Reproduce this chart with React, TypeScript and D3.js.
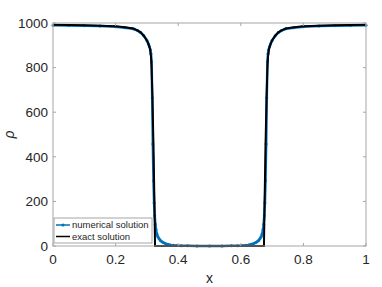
import React from 'react';
import * as d3 from 'd3';

// exact solution (x, rho)
const exactX = [0, 0.05, 0.1, 0.15, 0.2, 0.23, 0.256, 0.27, 0.28, 0.29, 0.3, 0.305, 0.31, 0.313, 0.315, 0.318, 0.321, 0.324, 0.326,
  0.674, 0.676, 0.679, 0.682, 0.685, 0.687, 0.69, 0.695, 0.7, 0.71, 0.72, 0.73, 0.744, 0.77, 0.8, 0.85, 0.9, 0.95, 1];
const exactRho = [992, 991, 990, 988, 985, 981, 975, 967, 958, 943, 922, 905, 884, 850, 800, 650, 450, 200, 0,
  0, 200, 450, 650, 800, 850, 884, 905, 922, 943, 958, 967, 975, 981, 985, 988, 990, 991, 992];

// numerical solution (x, rho)
const numX = [0, 0.05, 0.1, 0.15, 0.2, 0.23, 0.256, 0.27, 0.28, 0.29, 0.3, 0.305, 0.308, 0.311, 0.313, 0.315, 0.317, 0.319,
  0.321, 0.323, 0.325, 0.327, 0.329, 0.332, 0.335, 0.339, 0.343, 0.348, 0.353, 0.36, 0.367, 0.375, 0.385, 0.395, 0.41, 0.43,
  0.46, 0.5, 0.54, 0.57, 0.59, 0.605, 0.615, 0.625, 0.633, 0.64, 0.647, 0.652, 0.657, 0.661, 0.665, 0.668, 0.671, 0.673,
  0.675, 0.677, 0.679, 0.681, 0.683, 0.685, 0.687, 0.689, 0.692, 0.695, 0.7, 0.71, 0.72, 0.73, 0.744, 0.77, 0.8, 0.85, 0.9, 0.95, 1];
const numRho = [990, 989, 988, 986, 983, 979, 974, 966, 957, 943, 922, 906, 895, 880, 862, 826, 664, 457,
  293, 193, 136, 98, 74, 54, 42, 32, 25, 19, 15, 10.5, 7.5, 5, 3.2, 2, 1.2, 0.6,
  0.3, 0.2, 0.3, 0.6, 1.2, 2, 3.2, 5, 7.5, 10.5, 15, 19, 25, 32, 42, 54, 74, 98,
  136, 193, 293, 457, 664, 826, 862, 880, 895, 906, 922, 943, 957, 966, 974, 979, 983, 986, 988, 989, 990];

const xTicks = [0, 0.2, 0.4, 0.6, 0.8, 1];
const yTicks = [0, 200, 400, 600, 800, 1000];
const legendLabels = ['numerical solution', 'exact solution'];

const W = 382, H = 287;
const margin = { top: 23, right: 16, bottom: 41, left: 53 };
const font = 'Liberation Sans, Arial, Helvetica, sans-serif';
const blue = '#0072BD';
const axisColor = '#a6a6a6';
const textColor = '#262626';

const App: React.FC = () => {
  const x = d3.scaleLinear().domain([0, 1]).range([margin.left, W - margin.right]);
  const y = d3.scaleLinear().domain([0, 1000]).range([H - margin.bottom, margin.top]);

  const line = d3.line<[number, number]>().x(d => x(d[0])).y(d => y(d[1]));
  const numPts = numX.map((v, i) => [v, numRho[i]] as [number, number]);
  const exactPts = exactX.map((v, i) => [v, exactRho[i]] as [number, number]);

  const x0 = x(0), x1 = x(1), y0 = y(0), y1 = y(1000);
  const tl = 3;

  return (
    <svg width={W} height={H} style={{ position: 'absolute', left: 0, top: 0, background: '#fff' }} fontFamily={font}>
      <rect x={0} y={0} width={W} height={H} fill="#fff" />

      {/* Numerical */}
      <path d={line(numPts) || ''} fill="none" stroke={blue} strokeWidth={2.5} />
      {numPts.map((p, i) => (
        <circle key={i} cx={x(p[0])} cy={y(p[1])} r={1.5} fill={blue} />
      ))}

      {/* Exact */}
      <path d={line(exactPts) || ''} fill="none" stroke="#000" strokeWidth={2} />

      {/* Axes box */}
      <rect x={x0} y={y1} width={x1 - x0} height={y0 - y1} fill="none" stroke={axisColor} strokeWidth={1} />

      {xTicks.map(t => (
        <g key={'x' + t}>
          <line x1={x(t)} x2={x(t)} y1={y0} y2={y0 - tl} stroke={axisColor} />
          <line x1={x(t)} x2={x(t)} y1={y1} y2={y1 + tl} stroke={axisColor} />
          <text x={x(t)} y={y0 + 18} textAnchor="middle" fontSize={13.5} fill={textColor}>{t}</text>
        </g>
      ))}
      {yTicks.map(t => (
        <g key={'y' + t}>
          <line x1={x0} x2={x0 + tl} y1={y(t)} y2={y(t)} stroke={axisColor} />
          <line x1={x1} x2={x1 - tl} y1={y(t)} y2={y(t)} stroke={axisColor} />
          <text x={x0 - 5} y={y(t)} dy="0.35em" textAnchor="end" fontSize={13.5} fill={textColor}>{t}</text>
        </g>
      ))}

      <text x={(x0 + x1) / 2} y={283} textAnchor="middle" fontSize={14} fill={textColor}>x</text>
      <text transform={`translate(14,${(y0 + y1) / 2}) rotate(-90)`} textAnchor="middle" fontSize={14}
        fontStyle="italic" fill={textColor}>ρ</text>

      {/* Legend */}
      <g transform="translate(54,218)">
        <rect x={0} y={0} width={98} height={25} fill="#fff" stroke={axisColor} strokeWidth={1} />
        <line x1={2} x2={16} y1={7} y2={7} stroke={blue} strokeWidth={1.5} />
        <circle cx={9} cy={7} r={1.6} fill={blue} />
        <line x1={2} x2={16} y1={18.5} y2={18.5} stroke="#000" strokeWidth={1.5} />
        {legendLabels.map((l, i) => (
          <text key={l} x={18} y={7 + i * 11.5} dy="0.35em" fontSize={9.5} fill={textColor}>{l}</text>
        ))}
      </g>
    </svg>
  );
};

export default App;
